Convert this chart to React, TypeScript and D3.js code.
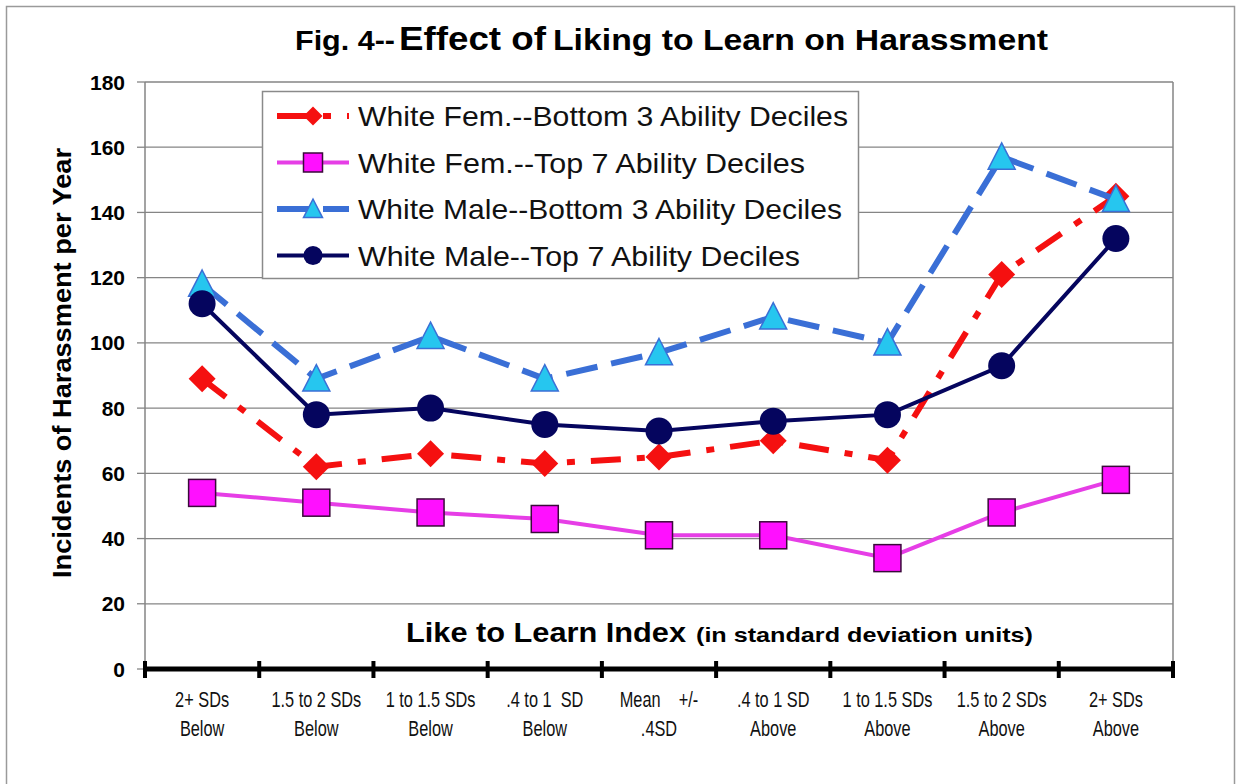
import { scaleBand, scaleLinear, line } from 'd3'

const categories = [
  '2+ SDs|Below',
  '1.5 to 2 SDs|Below',
  '1 to 1.5 SDs|Below',
  '.4 to 1  SD|Below',
  'Mean    +/-|.4SD',
  '.4 to 1 SD|Above',
  '1 to 1.5 SDs|Above',
  '1.5 to 2 SDs|Above',
  '2+ SDs|Above',
]

const femBottom = [89, 62, 66, 63, 65, 70, 64, 121, 145]
const femTop = [54, 51, 48, 46, 41, 41, 34, 48, 58]
const maleBottom = [118, 89, 102, 89, 97, 108, 100, 157, 144]
const maleTop = [112, 78, 80, 75, 73, 76, 78, 93, 132]

const seriesNames = [
  'White Fem.--Bottom 3 Ability Deciles',
  'White Fem.--Top 7 Ability Deciles',
  'White Male--Bottom 3 Ability Deciles',
  'White Male--Top 7 Ability Deciles',
]

const yTicks = [0, 20, 40, 60, 80, 100, 120, 140, 160, 180]

const width = 1236
const height = 784
const left = 145
const right = 1173
const top = 82
const bottom = 669

const x = scaleBand().domain(categories).range([left, right])
const y = scaleLinear().domain([0, 180]).range([bottom, top])

const series = [
  { name: seriesNames[0], values: femBottom, color: '#f51010', width: 6, dash: '30,16,8,16', marker: 'diamond', fill: '#f51010', stroke: '#f51010', legendLen: 490 },
  { name: seriesNames[1], values: femTop, color: '#e63ee6', width: 4, dash: null, marker: 'square', fill: '#ff10ff', stroke: '#3a0a3a', legendLen: 447 },
  { name: seriesNames[2], values: maleBottom, color: '#3a6fd6', width: 6, dash: '32,14', marker: 'triangle', fill: '#26c6ef', stroke: '#3a6fd6', legendLen: 484 },
  { name: seriesNames[3], values: maleTop, color: '#05055e', width: 4, dash: null, marker: 'circle', fill: '#05055e', stroke: '#05055e', legendLen: 442 },
]

function Marker({ type, cx, cy, s, fill, stroke }) {
  if (type === 'diamond') {
    return <path d={`M${cx},${cy - s}L${cx + s},${cy}L${cx},${cy + s}L${cx - s},${cy}Z`} fill={fill} />
  }
  if (type === 'square') {
    return <rect x={cx - s} y={cy - s} width={s * 2} height={s * 2} fill={fill} stroke={stroke} strokeWidth={1.5} />
  }
  if (type === 'triangle') {
    return <path d={`M${cx},${cy - s * 1.05}L${cx + s},${cy + s * 0.9}L${cx - s},${cy + s * 0.9}Z`} fill={fill} stroke={stroke} strokeWidth={1.5} />
  }
  return <circle cx={cx} cy={cy} r={s} fill={fill} />
}

const cx = (i) => x(categories[i]) + x.bandwidth() / 2

export default function App() {
  const path = line<number>()
    .x((_, i) => cx(i))
    .y((d) => y(d))

  const bandEdges = categories.map((c) => x(c)).concat([right])

  return (
    <svg
      width={width}
      height={height}
      style={{ position: 'absolute', left: 0, top: 0, background: '#fff' }}
      fontFamily="'Liberation Sans', Arial, sans-serif"
    >
      <rect x={6.5} y={6.5} width={1228} height={800} fill="#fff" stroke="#9a9a9a" strokeWidth={1.5} />

      {/* title */}
      <text y={50} fontWeight="bold" fill="#000">
        <tspan x={295} fontSize={27} textLength={100} lengthAdjust="spacingAndGlyphs">Fig. 4--</tspan>
        <tspan x={399} fontSize={33} textLength={147} lengthAdjust="spacingAndGlyphs">Effect of</tspan>
        <tspan x={553} fontSize={29} textLength={495} lengthAdjust="spacingAndGlyphs">Liking to Learn on Harassment</tspan>
      </text>

      {/* grid */}
      {yTicks.map((t) => (
        <g key={t}>
          {t > 0 && <line x1={left} x2={right} y1={y(t)} y2={y(t)} stroke="#858585" strokeWidth={1.3} />}
          <line x1={137} x2={left} y1={y(t)} y2={y(t)} stroke="#858585" strokeWidth={1.3} />
          <text x={125} y={y(t) + 7.5} textAnchor="end" fontSize={21} fontWeight="bold">
            {t}
          </text>
        </g>
      ))}
      <line x1={left} x2={left} y1={top} y2={bottom} stroke="#858585" strokeWidth={1.5} />
      <line x1={right} x2={right} y1={top} y2={bottom} stroke="#858585" strokeWidth={1.5} />

      {/* x axis */}
      <line x1={left} x2={right} y1={bottom} y2={bottom} stroke="#000" strokeWidth={5} />
      {bandEdges.map((e, i) => (
        <line key={i} x1={e} x2={e} y1={661} y2={678} stroke="#000" strokeWidth={4} />
      ))}
      {categories.map((c, i) => {
        const [a, b] = c.split('|')
        return (
          <text
            key={c}
            transform={`translate(${cx(i)},0) scale(0.76,1)`}
            textAnchor="middle"
            fontSize={21.5}
            style={{ whiteSpace: 'pre' }}
            fill="#111"
          >
            <tspan x={0} y={707}>{a}</tspan>
            <tspan x={0} y={736}>{b}</tspan>
          </text>
        )
      })}

      {/* axis titles */}
      <text y={642} fontWeight="bold">
        <tspan x={406} fontSize={28} textLength={280} lengthAdjust="spacingAndGlyphs">Like to Learn Index</tspan>
        <tspan x={696} fontSize={21} textLength={337} lengthAdjust="spacingAndGlyphs">(in standard deviation units)</tspan>
      </text>
      <text
        transform="translate(71,363) rotate(-90)"
        textAnchor="middle"
        fontSize={26}
        fontWeight="bold"
        textLength={430}
        lengthAdjust="spacingAndGlyphs"
      >
        Incidents of Harassment per Year
      </text>

      {/* series */}
      {series.map((s) => (
        <g key={s.name}>
          <path
            d={path(s.values)}
            fill="none"
            stroke={s.color}
            strokeWidth={s.width}
            strokeDasharray={s.dash || undefined}
          />
          {s.values.map((v, i) => (
            <Marker key={i} type={s.marker} cx={cx(i)} cy={y(v)} s={13.5} fill={s.fill} stroke={s.stroke} />
          ))}
        </g>
      ))}

      {/* legend */}
      <rect x={262.5} y={91.5} width={596} height={187} fill="#fff" stroke="#8a8a8a" strokeWidth={1.5} />
      {series.map((s, i) => {
        const ly = 116 + i * 46.5
        return (
          <g key={s.name}>
            <line
              x1={277}
              x2={349}
              y1={ly}
              y2={ly}
              stroke={s.color}
              strokeWidth={s.width}
              strokeDasharray={s.dash || undefined}
            />
            <Marker type={s.marker} cx={313} cy={ly} s={9.5} fill={s.fill} stroke={s.stroke} />
            <text
              x={358}
              y={ly + 10}
              fontSize={28}
              textLength={s.legendLen}
              lengthAdjust="spacingAndGlyphs"
              fill="#111"
            >
              {s.name}
            </text>
          </g>
        )
      })}
    </svg>
  )
}
